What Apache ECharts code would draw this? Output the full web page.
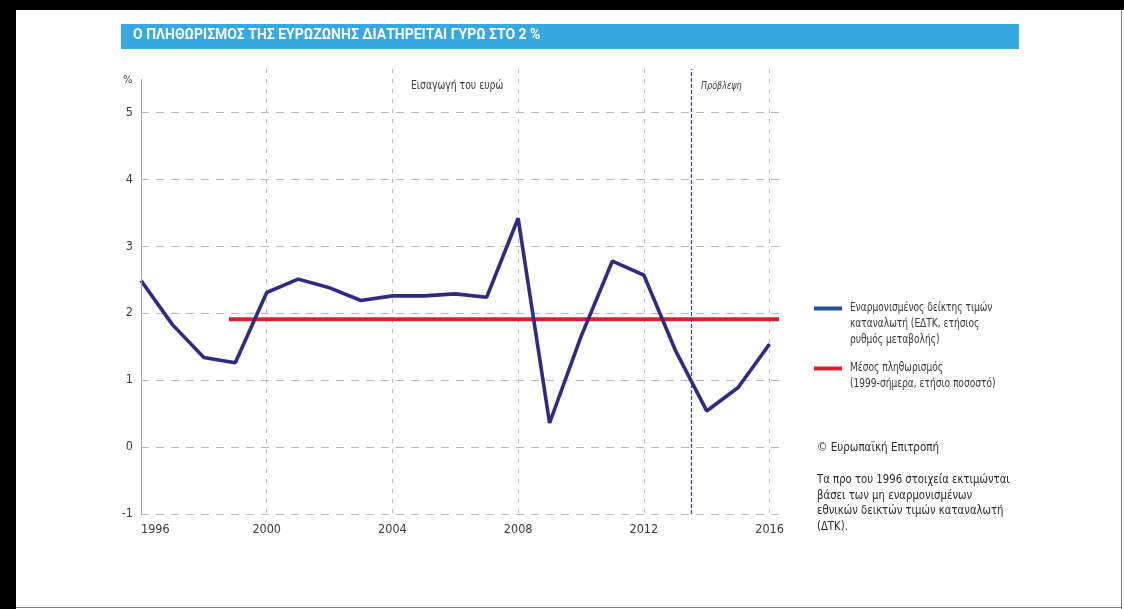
<!DOCTYPE html>
<html>
<head>
<meta charset="utf-8">
<title>Πληθωρισμός ευρωζώνης</title>
<script src="https://cdn.jsdelivr.net/npm/echarts@6/dist/echarts.min.js"></script>
<style>
  html, body { margin: 0; padding: 0; background: #fff; }
  #wrap { position: relative; width: 1124px; height: 609px; overflow: hidden; }
  #chart { position: absolute; left: 0; top: 0; width: 1124px; height: 609px; }
  .edge { position: absolute; }
</style>
</head>
<body>
<div id="wrap">
  <div id="chart"></div>
  <div class="edge" style="left:0;top:0;width:1124px;height:10px;background:#000"></div>
  <div class="edge" style="left:0;top:0;width:16px;height:609px;background:#000"></div>
  <div class="edge" style="left:1121px;top:10px;width:1px;height:599px;background:#7a7a7a"></div>
  <div class="edge" style="left:16px;top:607px;width:1106px;height:1px;background:#7a7a7a"></div>
</div>
<script>
// Euro area HICP, annual rate of change (%)
const years = [1996, 1997, 1998, 1999, 2000, 2001, 2002, 2003, 2004, 2005, 2006,
               2007, 2008, 2009, 2010, 2011, 2012, 2013, 2014, 2015, 2016];
const hicp  = [2.49, 1.83, 1.34, 1.26, 2.31, 2.51, 2.38, 2.19, 2.26, 2.26, 2.29,
               2.24, 3.42, 0.36, 1.65, 2.78, 2.57, 1.45, 0.54, 0.89, 1.54];

// Average inflation since the euro was introduced
const avgSpan = [1998.8, 2016.3];
const avgValue = [1.91, 1.91];

// Where the forecast period begins
const forecastStart = [2013.5];

// Tick labels
const xLabelYears = [1996, 2000, 2004, 2008, 2012, 2016];
const yLabelValues = [-1, 0, 1, 2, 3, 4, 5];

const X_MIN = 1996, X_MAX = 2016.3;
const Y_MIN = -1, Y_MAX = 5.65, Y_AXIS_TOP = 5.5;

const narrow = '"Liberation Sans Narrow", "DejaVu Sans Condensed", "Noto Sans", sans-serif';
const textColor = '#3a3a3a';

const chart = echarts.init(document.getElementById('chart'), null, { renderer: 'canvas' });

// Text block squeezed horizontally to get a narrow face
const narrowText = (x, y, text, size, squeeze, extra) => ({
  type: 'text', x, y, scaleX: squeeze, originX: 0,
  style: Object.assign({ text, x: 0, y: 0, fill: textColor, fontFamily: narrow, fontSize: size }, extra || {})
});

chart.setOption({
  animation: false,
  backgroundColor: '#fff',
  grid: { left: 141, right: 345, top: 69, bottom: 95, containLabel: false },
  xAxis: {
    type: 'value', min: X_MIN, max: X_MAX, interval: 4,
    axisLine: { show: false }, axisTick: { show: false },
    axisLabel: {
      margin: 9, color: textColor, fontFamily: narrow, fontSize: 12.5,
      alignMinLabel: 'left',
      formatter: v => (xLabelYears.includes(v) ? String(v) : '')
    },
    splitLine: {
      show: true, showMinLine: false, showMaxLine: false,
      lineStyle: { color: '#b8b8b8', width: 1, type: [4, 6] }
    }
  },
  yAxis: {
    type: 'value', min: Y_MIN, max: Y_MAX, interval: 1,
    axisLine: { show: false }, axisTick: { show: false },
    axisLabel: {
      margin: 8, color: textColor, fontFamily: narrow, fontSize: 12.5,
      showMaxLabel: false,
      formatter: v => (yLabelValues.includes(v) ? String(v) : '')
    },
    splitLine: {
      show: true, showMaxLine: false,
      lineStyle: { color: '#b8b8b8', width: 1, type: [8, 7] }
    }
  },
  series: [
    {
      name: 'Μέσος πληθωρισμός',
      type: 'line',
      data: avgSpan.map((x, i) => [x, avgValue[i]]),
      symbol: 'none',
      lineStyle: { color: '#d8202f', width: 4 },
      z: 2,
      silent: true
    },
    {
      name: 'Εναρμονισμένος δείκτης τιμών καταναλωτή',
      type: 'line',
      data: years.map((y, i) => [y, hicp[i]]),
      symbol: 'none',
      lineStyle: { color: '#2e2b80', width: 3.6 },
      z: 3,
      silent: true,
      markLine: {
        silent: true, symbol: 'none', animation: false,
        label: { show: false },
        data: [
          { xAxis: forecastStart[0], lineStyle: { color: '#3045a8', width: 1.2, type: [4, 2] } },
          [
            { coord: [X_MIN, Y_MIN], lineStyle: { color: '#a8a8a8', width: 1, type: 'solid' } },
            { coord: [X_MIN, Y_AXIS_TOP] }
          ]
        ]
      }
    }
  ],
  graphic: [
    { type: 'rect', shape: { x: 121, y: 24, width: 898, height: 25 }, style: { fill: '#38a8e0' } },
    {
      type: 'text', x: 133, y: 28.5,
      style: {
        text: 'Ο ΠΛΗΘΩΡΙΣΜΟΣ ΤΗΣ ΕΥΡΩΖΩΝΗΣ ΔΙΑΤΗΡΕΙΤΑΙ ΓΥΡΩ ΣΤΟ 2 %',
        fill: '#fff', fontFamily: 'Roboto, "Noto Sans", sans-serif', fontWeight: 'bold', fontSize: 14
      }
    },
    narrowText(123, 75, '%', 11, 1),
    narrowText(411, 80, 'Εισαγωγή του ευρώ', 12, 0.86),
    narrowText(701, 81, 'Πρόβλεψη', 10.5, 0.85, { fontStyle: 'italic' }),
    // legend
    { type: 'line', shape: { x1: 814, y1: 308.5, x2: 842, y2: 308.5 }, style: { stroke: '#22509b', lineWidth: 4 } },
    narrowText(850, 300, 'Εναρμονισμένος δείκτης τιμών\nκαταναλωτή (ΕΔΤΚ, ετήσιος\nρυθμός μεταβολής)', 12, 0.84, { lineHeight: 16 }),
    { type: 'line', shape: { x1: 814, y1: 368.5, x2: 842, y2: 368.5 }, style: { stroke: '#d8202f', lineWidth: 4 } },
    narrowText(850, 360, 'Μέσος πληθωρισμός\n(1999-σήμερα, ετήσιο ποσοστό)', 12, 0.84, { lineHeight: 16 }),
    // source and note
    narrowText(817, 441, '© Ευρωπαϊκή Επιτροπή', 12.5, 0.92, { fill: '#2a2a2a' }),
    narrowText(817, 472,
      'Τα προ του 1996 στοιχεία εκτιμώνται\nβάσει των μη εναρμονισμένων\nεθνικών δεικτών τιμών καταναλωτή\n(ΔΤΚ).',
      12.5, 0.9, { fill: '#2a2a2a', lineHeight: 15.5 })
  ]
});
</script>
</body>
</html>
